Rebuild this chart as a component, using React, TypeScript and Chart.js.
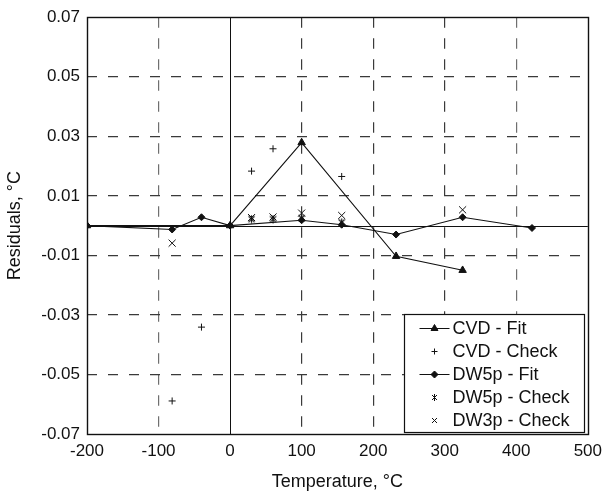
import React, { useEffect, useRef } from 'react';
import { Chart, registerables } from 'chart.js';

Chart.register(...registerables);

// ---- data ----
const xTickValues = [-200, -100, 0, 100, 200, 300, 400, 500];
const yTickValues = [-0.07, -0.05, -0.03, -0.01, 0.01, 0.03, 0.05, 0.07];

const seriesNames = ['CVD - Fit', 'CVD - Check', 'DW5p - Fit', 'DW5p - Check', 'DW3p - Check'];

const cvdFitT = [-200, 0, 100, 232, 325];
const cvdFitR = [0, 0, 0.0279, -0.0103, -0.015];

const cvdCheckT = [-81, -40, 30, 60, 156];
const cvdCheckR = [-0.0589, -0.0341, 0.0183, 0.0258, 0.0165];

const dw5FitT = [-200, -81, -40, 0, 100, 156, 232, 325, 422];
const dw5FitR = [0, -0.0013, 0.0028, 0, 0.0018, 0.0003, -0.003, 0.0028, -0.0008];

const dw5CheckT = [30, 60, 100, 156];
const dw5CheckR = [0.0022, 0.0022, 0.0025, 0.0011];

const dw3CheckT = [-81, 30, 60, 100, 156, 325];
const dw3CheckR = [-0.0059, 0.0027, 0.0029, 0.0042, 0.0034, 0.0053];

const INK = '#111';
const FONT = '"Liberation Sans", Arial, Helvetica, sans-serif';

function pts(t: number[], r: number[]) {
  return t.map((v, i) => ({ x: v, y: r[i] }));
}

function makeAsterisk(): HTMLCanvasElement {
  const c = document.createElement('canvas');
  c.width = 9;
  c.height = 9;
  const g = c.getContext('2d')!;
  g.strokeStyle = INK;
  g.lineWidth = 1.1;
  g.beginPath();
  g.moveTo(1.5, 1.5); g.lineTo(7.5, 7.5);
  g.moveTo(7.5, 1.5); g.lineTo(1.5, 7.5);
  g.moveTo(4.5, 0.5); g.lineTo(4.5, 8.5);
  g.stroke();
  return c;
}

function drawMarker(ctx: CanvasRenderingContext2D, style: string, x: number, y: number, r: number) {
  ctx.save();
  ctx.strokeStyle = INK;
  ctx.fillStyle = INK;
  ctx.lineWidth = 1;
  ctx.beginPath();
  if (style === 'triangle') {
    ctx.moveTo(x, y - r);
    ctx.lineTo(x + r * 0.866, y + r * 0.5);
    ctx.lineTo(x - r * 0.866, y + r * 0.5);
    ctx.closePath();
    ctx.fill();
    ctx.stroke();
  } else if (style === 'diamond') {
    ctx.moveTo(x, y - r);
    ctx.lineTo(x + r, y);
    ctx.lineTo(x, y + r);
    ctx.lineTo(x - r, y);
    ctx.closePath();
    ctx.fill();
    ctx.stroke();
  } else if (style === 'plus') {
    ctx.moveTo(x - r, y); ctx.lineTo(x + r, y);
    ctx.moveTo(x, y - r); ctx.lineTo(x, y + r);
    ctx.stroke();
  } else if (style === 'x') {
    ctx.moveTo(x - r, y - r); ctx.lineTo(x + r, y + r);
    ctx.moveTo(x + r, y - r); ctx.lineTo(x - r, y + r);
    ctx.stroke();
  } else if (style === 'star') {
    ctx.moveTo(x - r, y - r); ctx.lineTo(x + r, y + r);
    ctx.moveTo(x + r, y - r); ctx.lineTo(x - r, y + r);
    ctx.moveTo(x, y - r - 1); ctx.lineTo(x, y + r + 1);
    ctx.stroke();
  }
  ctx.restore();
}

const framePlugin = {
  id: 'frameAndZero',
  beforeDatasetsDraw(chart: any) {
    const { ctx, chartArea: a, scales } = chart;
    const px = Math.round(scales.x.getPixelForValue(0)) + 0.5;
    const py = Math.round(scales.y.getPixelForValue(0)) + 0.5;
    ctx.save();
    ctx.strokeStyle = INK;
    ctx.lineWidth = 1;
    ctx.beginPath();
    ctx.moveTo(px, a.top);
    ctx.lineTo(px, a.bottom);
    ctx.moveTo(a.left, py);
    ctx.lineTo(a.right, py);
    ctx.stroke();
    ctx.restore();
  },
  afterDatasetsDraw(chart: any) {
    const { ctx, chartArea: a } = chart;
    ctx.save();
    ctx.strokeStyle = INK;
    ctx.lineWidth = 1.4;
    const l = Math.round(a.left) + 0.5;
    const t = Math.round(a.top) + 0.5;
    const r = Math.round(a.right) + 0.5;
    const b = Math.round(a.bottom) + 0.5;
    ctx.strokeRect(l, t, r - l, b - t);
    ctx.restore();
  },
};

const legendStyles = [
  { line: true, marker: 'triangle', r: 4 },
  { line: false, marker: 'plus', r: 3 },
  { line: true, marker: 'diamond', r: 3.5 },
  { line: false, marker: 'star', r: 2.5 },
  { line: false, marker: 'x', r: 2.5 },
];

const legendPlugin = {
  id: 'insideLegend',
  afterDraw(chart: any) {
    const { ctx, chartArea: a } = chart;
    const w = 180;
    const h = 118;
    const x0 = Math.round(a.right) - 184 + 0.5;
    const y0 = Math.round(a.bottom) - 120 + 0.5;
    ctx.save();
    ctx.fillStyle = '#fff';
    ctx.fillRect(x0, y0, w, h);
    ctx.strokeStyle = INK;
    ctx.lineWidth = 1.2;
    ctx.strokeRect(x0, y0, w, h);
    ctx.font = `18px ${FONT}`;
    ctx.textBaseline = 'middle';
    ctx.textAlign = 'left';
    seriesNames.forEach((name, i) => {
      const cy = Math.round(y0 + 13 + i * 23) + 0.5;
      const st = legendStyles[i];
      const mx = x0 + 30;
      if (st.line) {
        ctx.beginPath();
        ctx.strokeStyle = INK;
        ctx.lineWidth = 1;
        ctx.moveTo(x0 + 15, cy);
        ctx.lineTo(x0 + 45, cy);
        ctx.stroke();
      }
      drawMarker(ctx, st.marker, mx, cy, st.r);
      ctx.fillStyle = INK;
      ctx.fillText(name, x0 + 48, cy + 1);
    });
    ctx.restore();
  },
};

export default function App() {
  const ref = useRef<HTMLCanvasElement | null>(null);

  useEffect(() => {
    if (!ref.current) return;
    const asterisk = makeAsterisk();
    Chart.defaults.font.family = FONT;
    Chart.defaults.color = INK;

    const gridX = (c: any) => {
      const v = c.tick ? c.tick.value : null;
      if (v === -200 || v === 500 || v === 0) return 'rgba(0,0,0,0)';
      if (v === -100 || v === 400) return '#6f6f6f';
      return '#3a3a3a';
    };
    const gridY = (c: any) => {
      const v = c.tick ? c.tick.value : null;
      if (v === null || Math.abs(v) > 0.065) return 'rgba(0,0,0,0)';
      return '#3a3a3a';
    };

    const chart = new Chart(ref.current, {
      type: 'line',
      data: {
        datasets: [
          {
            label: seriesNames[0],
            data: pts(cvdFitT, cvdFitR),
            borderColor: INK,
            backgroundColor: INK,
            borderWidth: 1.1,
            pointStyle: 'triangle',
            pointRadius: 4.3,
            pointBorderWidth: 1,
            showLine: true,
            tension: 0,
          },
          {
            label: seriesNames[1],
            data: pts(cvdCheckT, cvdCheckR),
            borderColor: INK,
            backgroundColor: INK,
            pointStyle: 'cross',
            pointRadius: 3.5,
            pointBorderWidth: 1,
            showLine: false,
          },
          {
            label: seriesNames[2],
            data: pts(dw5FitT, dw5FitR),
            borderColor: INK,
            backgroundColor: INK,
            borderWidth: 1.1,
            pointStyle: 'rectRot',
            pointRadius: 3.5,
            pointBorderWidth: 1,
            showLine: true,
            tension: 0,
          },
          {
            label: seriesNames[3],
            data: pts(dw5CheckT, dw5CheckR),
            borderColor: INK,
            backgroundColor: INK,
            pointStyle: asterisk as any,
            pointRadius: 4,
            showLine: false,
          },
          {
            label: seriesNames[4],
            data: pts(dw3CheckT, dw3CheckR),
            borderColor: INK,
            backgroundColor: INK,
            pointStyle: 'crossRot',
            pointRadius: 5,
            pointBorderWidth: 1,
            showLine: false,
          },
        ],
      },
      options: {
        responsive: false,
        animation: false,
        devicePixelRatio: 1,
        layout: { padding: { left: 0, right: 18, top: 14, bottom: 0 } },
        plugins: {
          legend: { display: false },
          tooltip: { enabled: false },
        },
        scales: {
          x: {
            type: 'linear',
            min: -200,
            max: 500,
            afterBuildTicks: (s: any) => {
              s.ticks = xTickValues.map((v) => ({ value: v }));
            },
            afterFit: (s: any) => {
              s.height = 60;
            },
            ticks: {
              padding: 7,
              color: INK,
              font: { size: 17 },
              maxRotation: 0,
              callback: (v: any) => String(v),
            },
            grid: {
              color: gridX,
              lineWidth: 1.2,
              drawTicks: false,
            },
            border: { display: false, dash: [10.5, 10.5] },
            title: {
              display: true,
              text: 'Temperature, °C',
              color: INK,
              font: { size: 18 },
              padding: { top: 0, bottom: 1 },
            },
          },
          y: {
            type: 'linear',
            min: -0.07,
            max: 0.07,
            afterBuildTicks: (s: any) => {
              s.ticks = yTickValues.map((v) => ({ value: v }));
            },
            afterFit: (s: any) => {
              s.width = 87;
            },
            ticks: {
              padding: 7,
              color: INK,
              font: { size: 17 },
              callback: (v: any) => Number(v).toFixed(2),
            },
            grid: {
              color: gridY,
              lineWidth: 1.2,
              drawTicks: false,
            },
            border: { display: false, dash: [10, 11] },
            title: {
              display: true,
              text: 'Residuals, °C',
              color: INK,
              font: { size: 18 },
              padding: { top: 4, bottom: 0 },
            },
          },
        },
      } as any,
      plugins: [framePlugin, legendPlugin],
    });

    return () => chart.destroy();
  }, []);

  return (
    <div style={{ position: 'fixed', left: 0, top: 0, width: 609, height: 494, background: '#fff' }}>
      <canvas ref={ref} width={609} height={494} style={{ display: 'block', width: 609, height: 494 }} />
    </div>
  );
}
